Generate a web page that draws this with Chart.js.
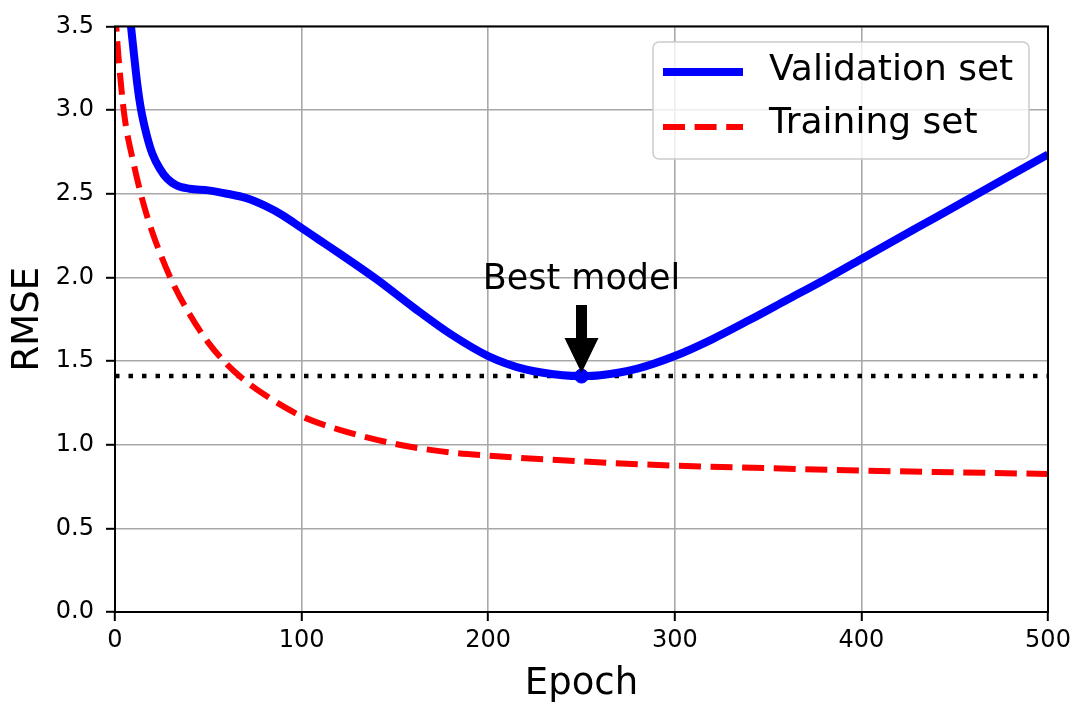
<!DOCTYPE html>
<html>
<head>
<meta charset="utf-8">
<script src="https://cdn.jsdelivr.net/npm/chart.js@4/dist/chart.umd.min.js"></script>
<style>
  html, body { margin: 0; padding: 0; background: #fff; }
  #wrap { width: 1076px; height: 702px; }
</style>
</head>
<body>
<div id="wrap"><canvas id="rmse" width="1076" height="702"></canvas></div>
<script>
// values
const valEpochs = [8, 10, 12, 14, 17, 20, 24, 28, 33, 40, 50, 60, 70, 80, 90, 100, 110, 120, 140, 160, 180, 200, 220, 240, 250, 260, 280, 300, 320, 340, 360, 380, 400, 420, 440, 460, 480, 500];
const valRmse   = [3.56, 3.35, 3.15, 3.0, 2.85, 2.74, 2.65, 2.59, 2.55, 2.53, 2.52, 2.5, 2.475, 2.43, 2.37, 2.295, 2.22, 2.145, 1.99, 1.82, 1.66, 1.53, 1.45, 1.415, 1.41, 1.415, 1.455, 1.53, 1.63, 1.745, 1.865, 1.985, 2.11, 2.235, 2.36, 2.485, 2.61, 2.735];

const trainEpochs = [0, 2, 5, 10, 15, 20, 30, 40, 50, 60, 70, 80, 90, 100, 120, 150, 175, 200, 250, 300, 350, 400, 450, 500];
const trainRmse   = [3.6, 3.3, 2.97, 2.68, 2.45, 2.27, 1.99, 1.78, 1.61, 1.48, 1.38, 1.3, 1.23, 1.17, 1.09, 1.005, 0.96, 0.935, 0.9, 0.875, 0.86, 0.845, 0.835, 0.825];

const bestEpoch = 250;
const bestRmse = 1.41;
const xTicks = [0, 100, 200, 300, 400, 500];
const yTicks = [0, 0.5, 1.0, 1.5, 2.0, 2.5, 3.0, 3.5];

const FONT = "'DejaVu Sans', sans-serif";

function pairs(xs, ys) {
  return xs.map((x, i) => ({ x: x, y: ys[i] }));
}

// legend, frame, arrow and label drawn on top
const extras = {
  id: 'extras',
  afterDatasetsDraw(chart) {
    const ctx = chart.ctx;
    const a = chart.chartArea;
    const xs = chart.scales.x, ys = chart.scales.y;

    // frame
    ctx.save();
    ctx.strokeStyle = '#000';
    ctx.lineWidth = 2;
    ctx.strokeRect(a.left, a.top, a.right - a.left, a.bottom - a.top);
    ctx.restore();

    // best model annotation
    const px = xs.getPixelForValue(bestEpoch);
    const py = ys.getPixelForValue(bestRmse);
    ctx.save();
    ctx.fillStyle = '#000';
    ctx.font = '35px ' + FONT;
    ctx.textAlign = 'center';
    ctx.textBaseline = 'alphabetic';
    ctx.fillText('Best model', px, ys.getPixelForValue(1.93));
    const top = py - 71, headBase = py - 38, tip = py - 3;
    ctx.beginPath();
    ctx.moveTo(px - 5.5, top);
    ctx.lineTo(px + 5.5, top);
    ctx.lineTo(px + 5.5, headBase);
    ctx.lineTo(px + 17, headBase);
    ctx.lineTo(px, tip);
    ctx.lineTo(px - 17, headBase);
    ctx.lineTo(px - 5.5, headBase);
    ctx.closePath();
    ctx.fill();
    ctx.restore();

    // legend
    const bx = 653, by = 42, bw = 376, bh = 117;
    ctx.save();
    ctx.beginPath();
    ctx.roundRect(bx, by, bw, bh, 6);
    ctx.fillStyle = 'rgba(255,255,255,0.8)';
    ctx.fill();
    ctx.strokeStyle = '#cccccc';
    ctx.lineWidth = 1.5;
    ctx.stroke();
    const rows = [chart.data.datasets[0], chart.data.datasets[1]];
    const lineY = [72, 127];
    const textY = [71, 124];
    rows.forEach((ds, i) => {
      ctx.beginPath();
      ctx.strokeStyle = ds.borderColor;
      ctx.lineWidth = ds.borderWidth;
      ctx.setLineDash(ds.borderDash || []);
      ctx.moveTo(663, lineY[i]);
      ctx.lineTo(743, lineY[i]);
      ctx.stroke();
      ctx.setLineDash([]);
      ctx.fillStyle = '#000';
      ctx.font = '36px ' + FONT;
      ctx.textAlign = 'left';
      ctx.textBaseline = 'middle';
      ctx.fillText(ds.label, 769, textY[i]);
    });
    ctx.restore();
  }
};

new Chart(document.getElementById('rmse'), {
  type: 'line',
  data: {
    datasets: [
      {
        label: 'Validation set',
        data: pairs(valEpochs, valRmse),
        borderColor: '#0000ff',
        borderWidth: 8,
        pointRadius: 0,
        cubicInterpolationMode: 'monotone',
        clip: 0,
        order: 2
      },
      {
        label: 'Training set',
        data: pairs(trainEpochs, trainRmse),
        borderColor: '#ff0000',
        borderWidth: 6,
        borderDash: [22, 9.6],
        pointRadius: 0,
        cubicInterpolationMode: 'monotone',
        clip: 0,
        order: 3
      },
      {
        label: 'best line',
        data: [{ x: 0, y: bestRmse }, { x: 500, y: bestRmse }],
        borderColor: '#000',
        borderWidth: 4.5,
        borderDash: [4.5, 9],
        pointRadius: 0,
        clip: 0,
        order: 4
      },
      {
        label: 'best point',
        data: [{ x: bestEpoch, y: bestRmse }],
        borderColor: '#0000ff',
        backgroundColor: '#0000ff',
        pointRadius: 7,
        showLine: false,
        order: 1
      }
    ]
  },
  options: {
    responsive: false,
    animation: false,
    devicePixelRatio: 1,
    layout: { padding: { left: 0, top: 24, right: 28, bottom: 0 } },
    plugins: {
      legend: { display: false },
      tooltip: { enabled: false }
    },
    scales: {
      x: {
        type: 'linear',
        min: 0,
        max: 500,
        afterBuildTicks: s => { s.ticks = xTicks.map(v => ({ value: v })); },
        afterFit: s => { s.height = 90; },
        ticks: {
          color: '#000',
          font: { family: FONT, size: 24 },
          padding: 5,
          maxRotation: 0
        },
        grid: { color: '#a8a8a8', lineWidth: 1.6, tickColor: '#000', tickLength: 9, tickWidth: 2 },
        border: { display: false },
        title: { display: true, text: 'Epoch', color: '#000', font: { family: FONT, size: 37 }, padding: { top: 0, bottom: -5 } }
      },
      y: {
        min: 0,
        max: 3.5,
        afterBuildTicks: s => { s.ticks = yTicks.map(v => ({ value: v })); },
        afterFit: s => { s.width = 115; },
        ticks: {
          color: '#000',
          font: { family: FONT, size: 24 },
          padding: 12,
          callback: v => v.toFixed(1)
        },
        grid: { color: '#a8a8a8', lineWidth: 1.6, tickColor: '#000', tickLength: 9, tickWidth: 2 },
        border: { display: false },
        title: { display: true, text: 'RMSE', color: '#000', font: { family: FONT, size: 37 }, padding: { top: 6, bottom: 0 } }
      }
    }
  },
  plugins: [extras]
});
</script>
</body>
</html>
